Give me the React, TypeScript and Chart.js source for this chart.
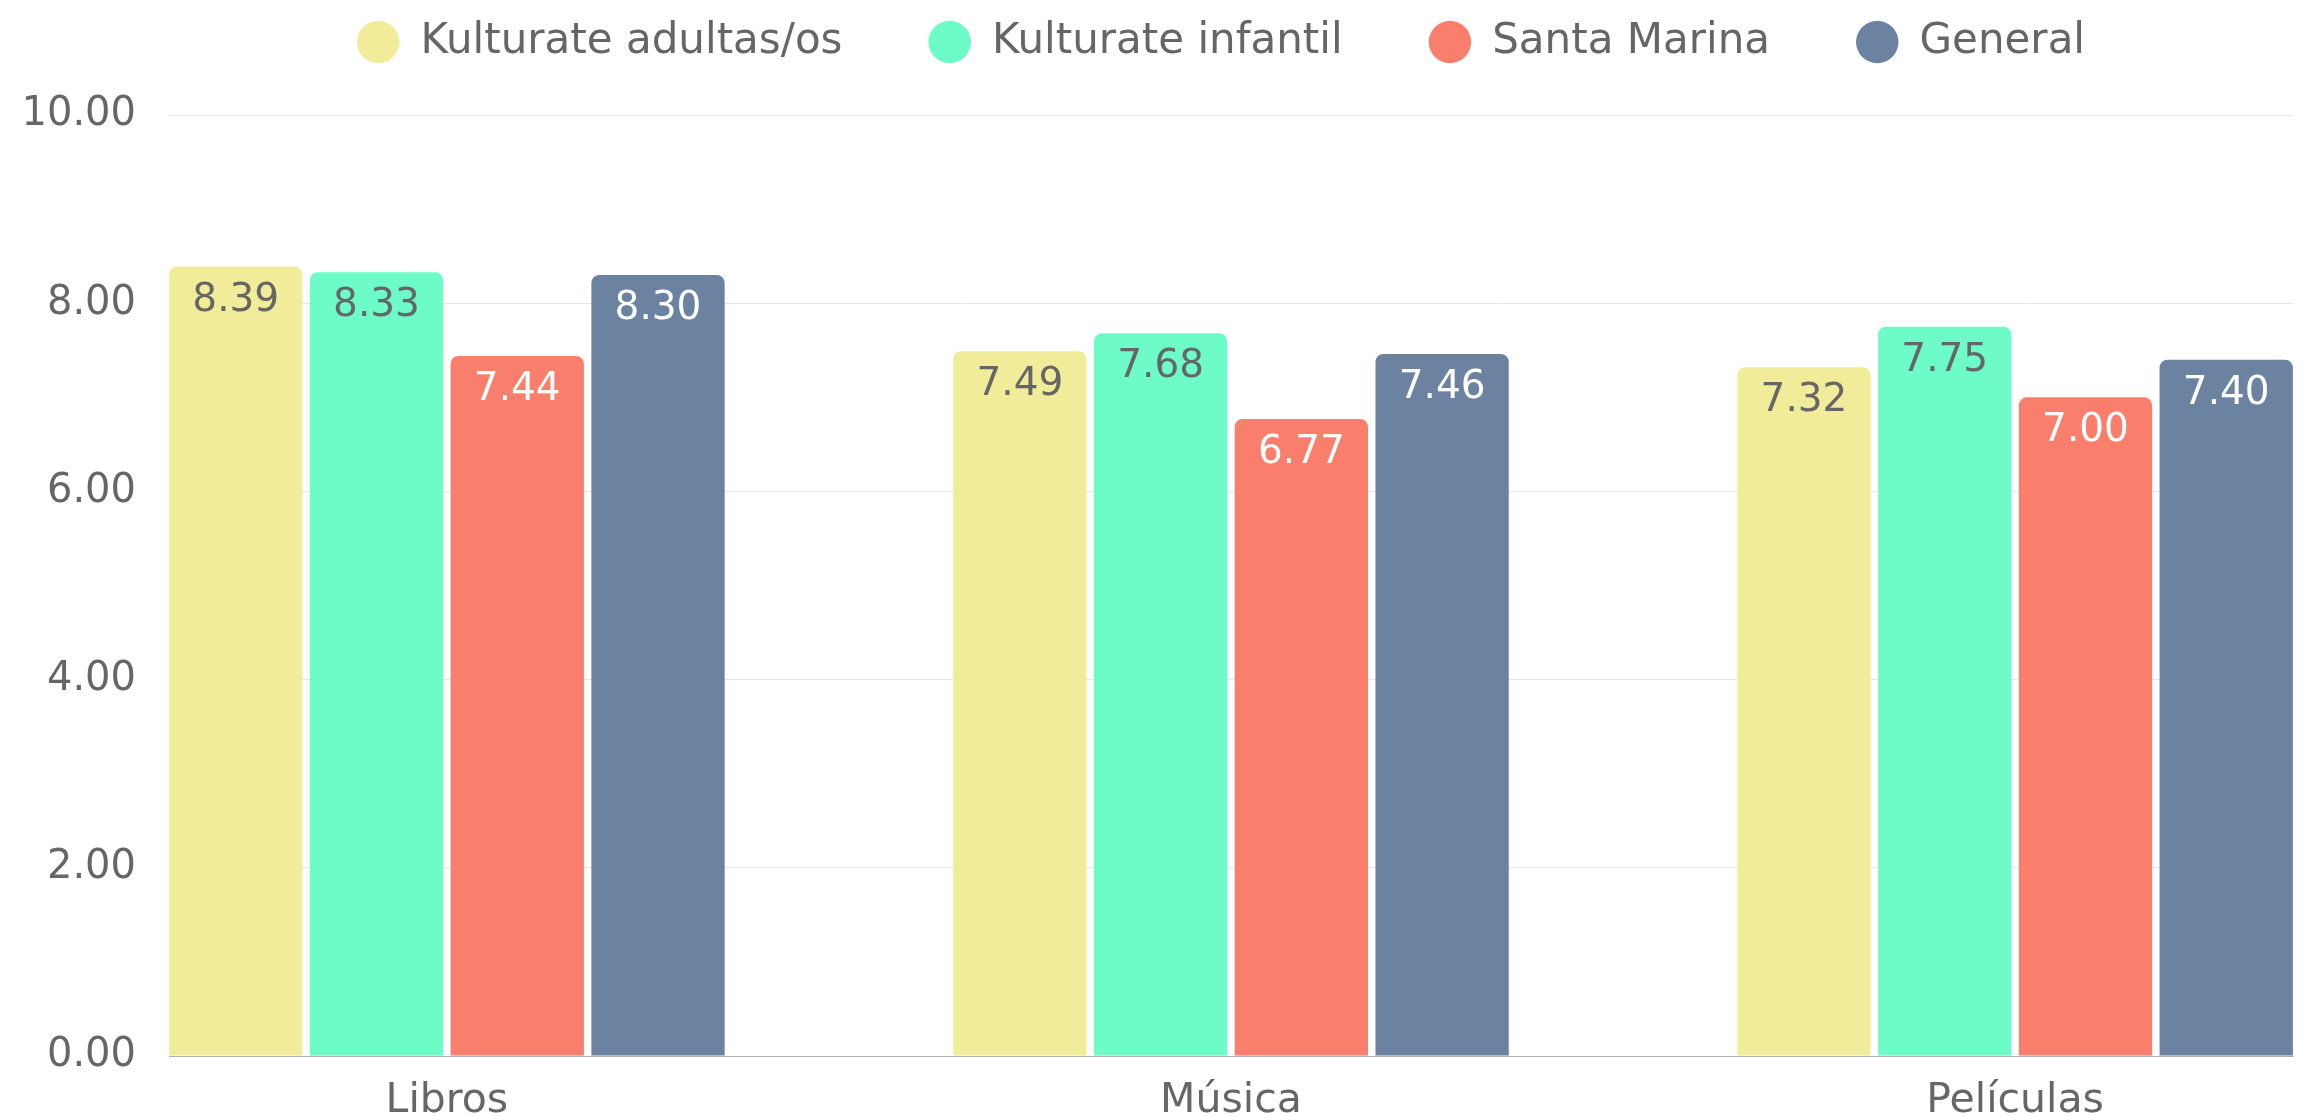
import React, { useEffect, useRef } from 'react';
import { Chart, registerables } from 'chart.js';

Chart.register(...registerables);

const categories = ['Libros', 'Música', 'Películas'];
const seriesNames = ['Kulturate adultas/os', 'Kulturate infantil', 'Santa Marina', 'General'];
const adultas = [8.39, 7.49, 7.32];
const infantil = [8.33, 7.68, 7.75];
const santaMarina = [7.44, 6.77, 7.0];
const general = [8.3, 7.46, 7.4];
const yTicks = [0, 2, 4, 6, 8, 10];

const seriesValues = [adultas, infantil, santaMarina, general];
const colors = ['#F1EC99', '#6DFBC8', '#F97E6C', '#6B82A0'];
const valueColors = ['#666666', '#666666', '#ffffff', '#ffffff'];
const FONT = '"DejaVu Sans", sans-serif';

const valueLabels = {
  id: 'valueLabels',
  afterDatasetsDraw(chart: any) {
    const ctx = chart.ctx;
    ctx.save();
    ctx.font = `39px ${FONT}`;
    ctx.textAlign = 'center';
    ctx.textBaseline = 'alphabetic';
    chart.data.datasets.forEach((ds: any, di: number) => {
      const meta = chart.getDatasetMeta(di);
      meta.data.forEach((el: any, i: number) => {
        const v = ds.data[i].y;
        ctx.fillStyle = valueColors[di];
        ctx.fillText(v.toFixed(2), el.x, el.y + 44);
      });
    });
    ctx.restore();
  },
};

const legendLayout = {
  id: 'legendLayout',
  beforeInit(chart: any) {
    const legend = chart.legend;
    if (!legend) return;
    const origFit = legend.fit;
    legend.fit = function () {
      origFit.call(this);
      this.height = 115;
    };
  },
  afterLayout(chart: any) {
    const legend = chart.legend;
    if (!legend) return;
    legend.top = -65;
    const dx = 1221 - (legend.left + legend.right) / 2;
    legend.left += dx;
    legend.right += dx;
  },
};

export default function App() {
  const ref = useRef<HTMLCanvasElement>(null);
  useEffect(() => {
    if (!ref.current) return;
    const chart = new Chart(ref.current, {
      type: 'bar',
      data: {
        datasets: seriesNames.map((name, di) => ({
          label: name,
          data: seriesValues[di].map((v, i) => ({ x: i, y: v })),
          backgroundColor: colors[di],
          borderWidth: 0,
          borderRadius: 8,
          borderSkipped: 'start',
          barPercentage: 0.947,
          categoryPercentage: 0.718,
        })),
      },
      options: {
        responsive: false,
        animation: false,
        layout: { padding: { left: 0, right: 19, top: 0, bottom: 0 } },
        plugins: {
          legend: {
            position: 'top',
            labels: {
              usePointStyle: true,
              pointStyle: 'circle',
              pointStyleWidth: 42.5,
              boxHeight: 30,
              padding: 86,
              color: '#666666',
              font: { family: FONT, size: 42 },
            },
          },
          tooltip: { enabled: false },
        },
        scales: {
          x: {
            type: 'linear',
            offset: false,
            min: -0.3544,
            max: 2.3544,
            bounds: 'data',
            grid: { display: false, offset: false },
            border: { display: true, color: '#b0b0b0', width: 1 },
            afterBuildTicks: (s: any) => {
              s.ticks = categories.map((_, i) => ({ value: i }));
            },
            afterFit: (s: any) => {
              s.height = 60;
            },
            ticks: {
              callback: (v: any) => categories[v] ?? '',
              color: '#666666',
              font: { family: FONT, size: 41 },
              padding: 13,
              maxRotation: 0,
              autoSkip: false,
            },
          },
          y: {
            min: 0,
            max: 10,
            afterBuildTicks: (s: any) => {
              s.ticks = yTicks.map((v) => ({ value: v }));
            },
            afterFit: (s: any) => {
              s.width = 169;
            },
            grid: { color: '#e6e6e6', drawTicks: false, lineWidth: 1 },
            border: { display: false },
            ticks: {
              callback: (v: any) => Number(v).toFixed(2),
              color: '#666666',
              font: { family: FONT, size: 40 },
              padding: 33,
              autoSkip: false,
            },
          },
        },
      } as any,
      plugins: [valueLabels, legendLayout],
    });
    return () => chart.destroy();
  }, []);
  return (
    <div style={{ position: 'fixed', left: 0, top: 0, width: 2312, height: 1116, background: '#fff' }}>
      <canvas ref={ref} width={2312} height={1116} style={{ display: 'block' }} />
    </div>
  );
}
